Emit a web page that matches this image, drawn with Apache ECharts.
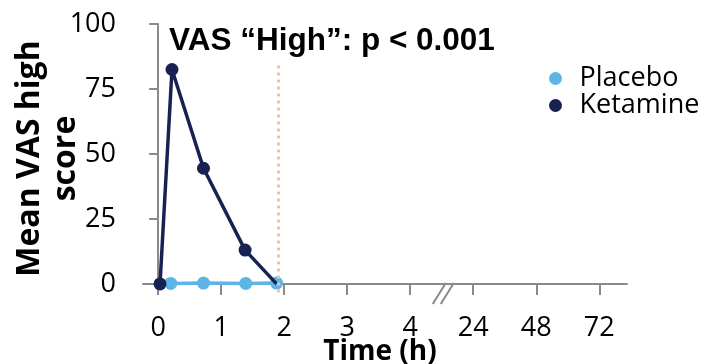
<!DOCTYPE html>
<html><head><meta charset="utf-8">
<script src="https://cdn.jsdelivr.net/npm/echarts@6/dist/echarts.min.js"></script>
<style>html,body{margin:0;padding:0;background:#fff}#c{width:703px;height:364px}</style>
</head><body><div id="c"></div>
<script>
// Tick labels of the broken time axis (h)
const xTickLabels = ['0', '1', '2', '3', '4', '24', '48', '72'];
const yTicks = [0, 25, 50, 75, 100];
// Series data: time (h) and mean VAS high score
const ketamineTime = [0.03, 0.22, 0.72, 1.38, 1.88];
const ketamineVal = [0, 82.5, 44.5, 13, 0];
const placeboTime = [0.2, 0.72, 1.39, 1.88];
const placeboVal = [0.2, 0.3, 0.2, 0.3];
const infusionEnd = 1.9;
const title = 'VAS \u201cHigh\u201d: p < 0.001';

// map real hours to broken-axis position
function pos(h) {
  if (h <= 4) return h;
  return 4 + h / 24;
}
const DARK = '#172152', LIGHT = '#5db5e6';
const FONT = 'Open Sans';
const chart = echarts.init(document.getElementById('c'));
const ketData = ketamineTime.map((t, i) => {
  const d = { value: [pos(t), ketamineVal[i]] };
  if (i === ketamineTime.length - 1) d.symbol = 'none';
  return d;
});
const plaData = placeboTime.map((t, i) => [pos(t), placeboVal[i]]);
const tickPos = xTickLabels.map((l) => pos(Number(l)));
chart.setOption({
  animation: false,
  title: {
    text: title, left: 164, top: 20,
    textStyle: { fontFamily: 'Liberation Sans', fontWeight: 'bold', fontSize: 31.5, color: '#000' }
  },
  legend: {
    orient: 'vertical', left: 544, top: 60, itemWidth: 38, itemHeight: 13, itemGap: 0,
    icon: 'circle',
    textStyle: { fontFamily: FONT, fontSize: 27, color: '#000', lineHeight: 25 },
    data: ['Placebo', 'Ketamine']
  },
  grid: { left: 143, right: 76, top: 24, bottom: 71, containLabel: false, outerBoundsMode: 'none' },
  xAxis: {
    type: 'value', min: -0.24, max: 7.44,
    name: 'Time (h)', nameLocation: 'middle', nameGap: 45, nameMoveOverlap: false,
    nameTextStyle: { fontFamily: FONT, fontWeight: 'bold', fontSize: 28, color: '#000', padding: [0, 10, 0, 0] },
    axisLine: { lineStyle: { color: '#8a8a8a', width: 2 } },
    axisTick: { show: true, length: 11, customValues: tickPos, lineStyle: { color: '#8a8a8a', width: 2 } },
    axisLabel: {
      customValues: tickPos, margin: 22,
      formatter: (v) => { const i = tickPos.indexOf(v); return i >= 0 ? xTickLabels[i] : ''; },
      fontFamily: FONT, fontSize: 27, color: '#000'
    },
    splitLine: { show: false }
  },
  yAxis: {
    type: 'value', min: -3.5, max: 100,
    name: 'Mean VAS high\nscore', nameLocation: 'middle', nameGap: 59, nameMoveOverlap: false,
    nameTextStyle: { fontFamily: FONT, fontWeight: 'bold', fontSize: 32, color: '#000', lineHeight: 36 },
    axisLine: { show: true, lineStyle: { color: '#8a8a8a', width: 2 } },
    axisTick: { show: true, length: 9, customValues: yTicks, lineStyle: { color: '#8a8a8a', width: 2 } },
    axisLabel: { customValues: yTicks, margin: 27, fontFamily: FONT, fontSize: 27, color: '#000' },
    splitLine: { show: false }
  },
  series: [
    {
      name: 'Placebo', type: 'line', data: plaData, z: 2,
      symbol: 'circle', symbolSize: 13,
      itemStyle: { color: LIGHT }, lineStyle: { color: LIGHT, width: 3.5 },
      markLine: {
        silent: true, symbol: 'none', z: 10,
        lineStyle: { color: '#f9bea8', width: 3, type: [3, 4] },
        label: { show: false },
        data: [[{ coord: [pos(infusionEnd), 84] }, { coord: [pos(infusionEnd), -3.5] }]]
      }
    },
    {
      name: 'Ketamine', type: 'line', data: ketData, z: 3,
      symbol: 'circle', symbolSize: 13,
      itemStyle: { color: DARK }, lineStyle: { color: DARK, width: 3.5 }
    }
  ]
});
// axis-break marker "//"
const bx = chart.convertToPixel({ xAxisIndex: 0 }, 4.58);
const by = chart.convertToPixel({ yAxisIndex: 0 }, -3.5);
chart.setOption({
  graphic: [
    { type: 'line', shape: { x1: bx - 14, y1: by + 11, x2: bx - 1, y2: by - 10 }, style: { stroke: '#8a8a8a', lineWidth: 2 } },
    { type: 'line', shape: { x1: bx - 6, y1: by + 11, x2: bx + 7, y2: by - 10 }, style: { stroke: '#8a8a8a', lineWidth: 2 } }
  ]
});
</script></body></html>
